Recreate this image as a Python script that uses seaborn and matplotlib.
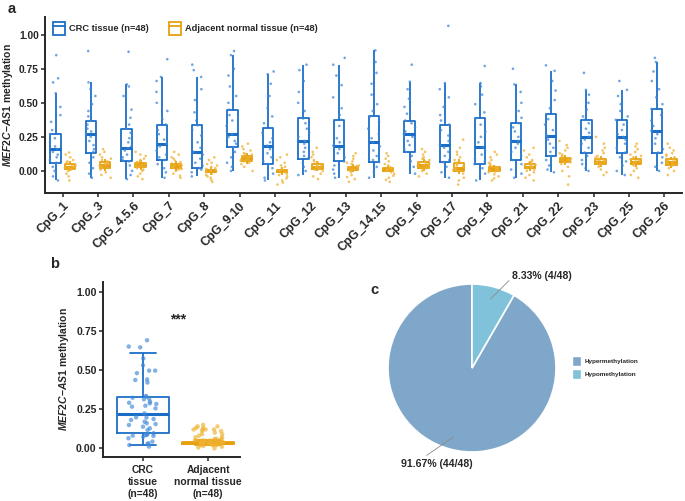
import numpy as np
import pandas as pd
import matplotlib
matplotlib.use("Agg")
import matplotlib.pyplot as plt
from matplotlib.patches import Patch
from matplotlib.lines import Line2D
import seaborn as sns

# ---- data ----
sites = ["CpG_1", "CpG_3", "CpG_4.5.6", "CpG_7", "CpG_8", "CpG_9.10", "CpG_11",
         "CpG_12", "CpG_13", "CpG_14.15", "CpG_16", "CpG_17", "CpG_18", "CpG_21",
         "CpG_22", "CpG_23", "CpG_25", "CpG_26"]
tissues = ["CRC tissue (n=48)", "Adjacent normal tissue (n=48)"]

# five-number summaries per site: whisker low, q1, median, q3, whisker high
crc_box = [
    [-0.07, 0.06, 0.16, 0.27, 0.575],
    [-0.05, 0.135, 0.27, 0.37, 0.65],
    [-0.06, 0.07, 0.165, 0.31, 0.635],
    [-0.05, 0.08, 0.20, 0.34, 0.69],
    [-0.04, 0.02, 0.14, 0.335, 0.69],
    [0.0, 0.175, 0.27, 0.45, 0.85],
    [-0.07, 0.05, 0.185, 0.315, 0.71],
    [-0.03, 0.09, 0.22, 0.385, 0.78],
    [-0.05, 0.07, 0.185, 0.375, 0.78],
    [-0.05, 0.065, 0.21, 0.40, 0.885],
    [-0.02, 0.14, 0.27, 0.37, 0.655],
    [-0.05, 0.065, 0.19, 0.34, 0.645],
    [-0.07, 0.05, 0.175, 0.385, 0.645],
    [-0.05, 0.08, 0.22, 0.35, 0.635],
    [-0.01, 0.11, 0.255, 0.415, 0.735],
    [0.0, 0.135, 0.25, 0.375, 0.595],
    [-0.03, 0.135, 0.25, 0.375, 0.595],
    [0.0, 0.135, 0.295, 0.455, 0.80],
]
normal_box = [
    [0.0, 0.012, 0.032, 0.048, 0.07],
    [0.0, 0.025, 0.044, 0.064, 0.09],
    [0.01, 0.032, 0.049, 0.061, 0.08],
    [0.0, 0.018, 0.034, 0.052, 0.075],
    [-0.03, -0.01, 0.0, 0.01, 0.03],
    [0.05, 0.071, 0.093, 0.11, 0.13],
    [-0.03, -0.01, 0.0, 0.01, 0.03],
    [0.0, 0.015, 0.032, 0.049, 0.07],
    [-0.01, 0.005, 0.02, 0.03, 0.05],
    [-0.01, 0.0, 0.012, 0.02, 0.035],
    [0.0, 0.02, 0.044, 0.064, 0.09],
    [-0.02, 0.002, 0.02, 0.061, 0.09],
    [-0.01, 0.002, 0.015, 0.026, 0.045],
    [0.0, 0.018, 0.032, 0.049, 0.07],
    [0.04, 0.062, 0.081, 0.098, 0.12],
    [0.03, 0.049, 0.069, 0.086, 0.11],
    [0.03, 0.049, 0.069, 0.086, 0.11],
    [0.025, 0.045, 0.065, 0.085, 0.105],
]

# individual samples (approximate)
crc_points = [
    [0.85, 0.68, 0.65, 0.57, 0.47, 0.41, 0.36, 0.30, 0.27, 0.24, 0.21, 0.18, 0.16, 0.14, 0.12, 0.10, 0.08, 0.06, 0.03, 0.00, -0.04, -0.07],
    [0.88, 0.65, 0.60, 0.55, 0.49, 0.44, 0.40, 0.37, 0.34, 0.31, 0.29, 0.27, 0.25, 0.22, 0.19, 0.16, 0.14, 0.10, 0.06, 0.02, -0.02, -0.05],
    [0.875, 0.635, 0.62, 0.55, 0.45, 0.39, 0.34, 0.31, 0.28, 0.24, 0.21, 0.18, 0.165, 0.15, 0.12, 0.10, 0.08, 0.07, 0.04, 0.0, -0.03, -0.06],
    [0.82, 0.69, 0.66, 0.58, 0.50, 0.44, 0.38, 0.34, 0.30, 0.27, 0.23, 0.20, 0.18, 0.15, 0.12, 0.10, 0.08, 0.05, 0.02, -0.01, -0.05],
    [0.78, 0.74, 0.69, 0.60, 0.52, 0.43, 0.37, 0.335, 0.30, 0.26, 0.21, 0.17, 0.14, 0.12, 0.09, 0.06, 0.04, 0.02, 0.01, -0.01, -0.04],
    [0.88, 0.85, 0.75, 0.70, 0.62, 0.55, 0.50, 0.45, 0.41, 0.37, 0.33, 0.29, 0.27, 0.25, 0.22, 0.20, 0.175, 0.14, 0.10, 0.06, 0.03, 0.0],
    [0.73, 0.71, 0.64, 0.55, 0.46, 0.40, 0.35, 0.315, 0.28, 0.24, 0.21, 0.185, 0.16, 0.13, 0.10, 0.07, 0.05, 0.02, -0.02, -0.05, -0.07],
    [0.78, 0.74, 0.66, 0.58, 0.50, 0.44, 0.385, 0.35, 0.31, 0.28, 0.25, 0.22, 0.20, 0.17, 0.14, 0.11, 0.09, 0.06, 0.03, 0.0, -0.03],
    [0.83, 0.78, 0.70, 0.63, 0.54, 0.46, 0.41, 0.375, 0.33, 0.28, 0.24, 0.21, 0.185, 0.16, 0.13, 0.10, 0.07, 0.04, 0.01, -0.02, -0.05],
    [0.885, 0.80, 0.72, 0.64, 0.56, 0.49, 0.44, 0.40, 0.36, 0.31, 0.27, 0.24, 0.21, 0.18, 0.15, 0.11, 0.08, 0.065, 0.03, -0.01, -0.05],
    [0.78, 0.655, 0.60, 0.53, 0.47, 0.42, 0.37, 0.35, 0.32, 0.29, 0.27, 0.25, 0.22, 0.19, 0.16, 0.14, 0.11, 0.07, 0.03, -0.02],
    [1.065, 0.645, 0.60, 0.54, 0.47, 0.41, 0.37, 0.34, 0.30, 0.26, 0.22, 0.19, 0.17, 0.14, 0.11, 0.08, 0.065, 0.03, -0.01, -0.05],
    [0.77, 0.645, 0.62, 0.56, 0.49, 0.43, 0.385, 0.34, 0.29, 0.25, 0.21, 0.175, 0.15, 0.12, 0.09, 0.07, 0.05, 0.02, -0.02, -0.07],
    [0.75, 0.635, 0.58, 0.50, 0.44, 0.39, 0.35, 0.32, 0.29, 0.25, 0.22, 0.20, 0.17, 0.14, 0.11, 0.08, 0.05, 0.01, -0.02, -0.05],
    [0.775, 0.735, 0.66, 0.59, 0.52, 0.46, 0.415, 0.38, 0.34, 0.30, 0.27, 0.255, 0.23, 0.20, 0.17, 0.14, 0.11, 0.08, 0.04, 0.01, -0.01],
    [0.72, 0.595, 0.56, 0.50, 0.45, 0.40, 0.375, 0.35, 0.31, 0.28, 0.25, 0.23, 0.20, 0.17, 0.135, 0.11, 0.08, 0.05, 0.02, 0.0],
    [0.66, 0.595, 0.55, 0.49, 0.44, 0.40, 0.375, 0.34, 0.30, 0.27, 0.25, 0.23, 0.20, 0.17, 0.135, 0.10, 0.07, 0.04, 0.0, -0.03],
    [0.83, 0.80, 0.73, 0.66, 0.60, 0.54, 0.49, 0.455, 0.41, 0.37, 0.33, 0.295, 0.27, 0.24, 0.20, 0.16, 0.135, 0.10, 0.06, 0.03, 0.0],
]
normal_points = [
    [0.135, 0.12, 0.10, 0.08, 0.07, 0.06, 0.05, 0.045, 0.04, 0.035, 0.03, 0.03, 0.025, 0.02, 0.015, 0.01, 0.0, -0.02, -0.04, -0.07],
    [0.16, 0.14, 0.12, 0.10, 0.09, 0.08, 0.07, 0.06, 0.055, 0.05, 0.045, 0.04, 0.035, 0.03, 0.025, 0.02, 0.01, -0.01, -0.03, -0.05],
    [0.14, 0.12, 0.11, 0.09, 0.08, 0.07, 0.065, 0.06, 0.055, 0.05, 0.045, 0.04, 0.035, 0.03, 0.02, 0.01, 0.0, -0.02, -0.04, -0.06],
    [0.14, 0.12, 0.10, 0.09, 0.075, 0.065, 0.055, 0.05, 0.045, 0.04, 0.035, 0.03, 0.025, 0.02, 0.015, 0.01, 0.0, -0.02, -0.035, -0.05],
    [0.10, 0.08, 0.06, 0.05, 0.04, 0.03, 0.02, 0.015, 0.01, 0.005, 0.0, 0.0, -0.005, -0.01, -0.02, -0.03, -0.04, -0.05, -0.065, -0.08],
    [0.20, 0.18, 0.16, 0.15, 0.13, 0.125, 0.12, 0.11, 0.105, 0.10, 0.095, 0.09, 0.085, 0.08, 0.075, 0.07, 0.06, 0.05, 0.03, 0.0],
    [0.12, 0.10, 0.08, 0.06, 0.04, 0.03, 0.02, 0.01, 0.005, 0.0, 0.0, -0.005, -0.01, -0.02, -0.03, -0.04, -0.055, -0.07, -0.085, -0.10],
    [0.17, 0.14, 0.12, 0.10, 0.08, 0.07, 0.06, 0.05, 0.045, 0.04, 0.035, 0.03, 0.025, 0.02, 0.015, 0.01, 0.0, -0.02, -0.04, -0.06],
    [0.13, 0.11, 0.09, 0.07, 0.06, 0.05, 0.04, 0.035, 0.03, 0.025, 0.02, 0.015, 0.01, 0.005, 0.0, -0.01, -0.03, -0.045, -0.06, -0.08],
    [0.13, 0.11, 0.09, 0.07, 0.05, 0.04, 0.03, 0.025, 0.02, 0.015, 0.01, 0.01, 0.005, 0.0, -0.01, -0.02, -0.035, -0.05, -0.065, -0.08],
    [0.16, 0.14, 0.12, 0.10, 0.09, 0.08, 0.07, 0.06, 0.055, 0.05, 0.045, 0.04, 0.035, 0.03, 0.025, 0.02, 0.01, 0.0, -0.02, -0.04],
    [0.23, 0.17, 0.14, 0.12, 0.10, 0.08, 0.07, 0.06, 0.05, 0.04, 0.03, 0.02, 0.015, 0.01, 0.005, 0.0, -0.02, -0.05, -0.07, -0.10],
    [0.14, 0.12, 0.10, 0.08, 0.06, 0.05, 0.04, 0.03, 0.025, 0.02, 0.015, 0.01, 0.005, 0.0, -0.005, -0.01, -0.025, -0.04, -0.055, -0.07],
    [0.17, 0.15, 0.12, 0.10, 0.08, 0.07, 0.06, 0.05, 0.045, 0.04, 0.035, 0.03, 0.025, 0.02, 0.01, 0.0, -0.01, -0.03, -0.05, -0.07],
    [0.22, 0.19, 0.17, 0.15, 0.13, 0.12, 0.11, 0.10, 0.095, 0.09, 0.085, 0.08, 0.075, 0.07, 0.065, 0.06, 0.05, 0.03, 0.0, -0.04, -0.10],
    [0.25, 0.20, 0.17, 0.15, 0.13, 0.11, 0.10, 0.09, 0.085, 0.08, 0.075, 0.07, 0.065, 0.06, 0.055, 0.05, 0.04, 0.03, 0.01, -0.01, -0.03],
    [0.20, 0.18, 0.16, 0.14, 0.12, 0.11, 0.10, 0.09, 0.085, 0.08, 0.075, 0.07, 0.065, 0.06, 0.055, 0.05, 0.04, 0.02, 0.0, -0.03, -0.05],
    [0.20, 0.17, 0.15, 0.13, 0.12, 0.11, 0.10, 0.09, 0.085, 0.08, 0.07, 0.065, 0.06, 0.055, 0.05, 0.045, 0.04, 0.02, 0.0, -0.03],
]

# panel b: mean methylation per sample
groups_b = ["CRC\ntissue\n(n=48)", "Adjacent\nnormal tissue\n(n=48)"]
crc_box_b = [0.02, 0.095, 0.22, 0.33, 0.61]
normal_box_b = [0.02, 0.03, 0.036, 0.042, 0.05]
crc_points_b = [0.69, 0.645, 0.65, 0.574, 0.53, 0.496, 0.496, 0.48, 0.44, 0.436, 0.42, 0.334,
                0.33, 0.323, 0.317, 0.313, 0.298, 0.291, 0.287, 0.283, 0.272, 0.266, 0.255, 0.223,
                0.198, 0.196, 0.187, 0.181, 0.17, 0.16, 0.155, 0.149, 0.138, 0.128, 0.117, 0.096,
                0.091, 0.087, 0.085, 0.081, 0.079, 0.074, 0.064, 0.043, 0.032, 0.028, 0.021, 0.011]
normal_points_b = [0.15, 0.14, 0.14, 0.13, 0.13, 0.12, 0.12, 0.12, 0.12, 0.11, 0.11, 0.10,
                   0.09, 0.09, 0.08, 0.07, 0.07, 0.06, 0.06, 0.06, 0.05, 0.05, 0.05, 0.05,
                   0.04, 0.04, 0.04, 0.04, 0.04, 0.035, 0.035, 0.035, 0.035, 0.03, 0.03, 0.03,
                   0.03, 0.03, 0.03, 0.025, 0.025, 0.02, 0.02, 0.02, 0.015, 0.01, 0.005, 0.0]

# panel c
pie_labels = ["Hypermethylation", "Hypomethylation"]
pie_counts = [44, 4]
pie_text = ["91.67% (44/48)", "8.33% (4/48)"]

blue = "#1b6ec8"
orange = "#e6a10f"
blue_pt = "#3f88d8"
orange_pt = "#efb12f"
pie_colors = ["#7fa7ca", "#80c2da"]

sns.set_theme(style="ticks")
plt.rcParams["font.family"] = ["Liberation Sans", "DejaVu Sans"]
plt.rcParams["font.weight"] = "bold"
plt.rcParams["axes.labelweight"] = "bold"
plt.rcParams["mathtext.fontset"] = "custom"
plt.rcParams["mathtext.it"] = "Liberation Sans:italic:bold"
plt.rcParams["mathtext.rm"] = "Liberation Sans:bold"
np.random.seed(3)

# long tables
box_rows, pt_rows = [], []
for i, s in enumerate(sites):
    for v in crc_box[i]:
        box_rows.append((s, tissues[0], v))
    for v in normal_box[i]:
        box_rows.append((s, tissues[1], v))
    for v in crc_points[i]:
        pt_rows.append((s, tissues[0], v))
    for v in normal_points[i]:
        pt_rows.append((s, tissues[1], v))
box_df = pd.DataFrame(box_rows, columns=["site", "tissue", "value"])
pt_df = pd.DataFrame(pt_rows, columns=["site", "tissue", "value"])

fig = plt.figure(figsize=(6.85, 5.01), dpi=100)
ax_a = fig.add_axes([45 / 685, 1 - 193 / 501, 637 / 685, 176 / 501])
ax_b = fig.add_axes([103 / 685, 1 - 457 / 501, 137 / 685, 175 / 501])
ax_c = fig.add_axes([367 / 685, 1 - 473 / 501, 210 / 685, 210 / 501])

pal = {tissues[0]: blue, tissues[1]: orange}
pal_pt = {tissues[0]: blue_pt, tissues[1]: orange_pt}

# ---- panel a ----
sns.boxplot(data=box_df, x="site", y="value", hue="tissue", order=sites, hue_order=tissues,
            palette=pal, fill=False, whis=np.inf, width=0.8, gap=0.27, linewidth=1.3,
            showcaps=False, medianprops={"linewidth": 2.2}, legend=False, ax=ax_a)
sns.stripplot(data=pt_df, x="site", y="value", hue="tissue", order=sites, hue_order=tissues,
              palette=pal_pt, dodge=True, jitter=0.34, size=1.9, alpha=0.75, linewidth=0,
              legend=False, ax=ax_a)
ax_a.set_xlim(-0.5, len(sites) - 0.5)
ax_a.set_ylim(-0.162, 1.13)
ax_a.set_yticks([0, 0.25, 0.5, 0.75, 1.0])
ax_a.set_yticklabels(["0.00", "0.25", "0.50", "0.75", "1.00"])
ax_a.set_xlabel("")
ax_a.set_ylabel(r"$\mathit{MEF2C{-}AS1}$ methylation", fontsize=7.5, labelpad=3)
ax_a.tick_params(axis="y", labelsize=7.4, width=1.1, length=3, pad=1.5)
ax_a.tick_params(axis="x", labelsize=8.8, width=1.1, length=3, pad=2)
plt.setp(ax_a.get_xticklabels(), rotation=45, ha="right", rotation_mode="anchor")
for sp in ["left", "bottom"]:
    ax_a.spines[sp].set_linewidth(1.4)
sns.despine(ax=ax_a)

handles = [(Patch(facecolor="white", edgecolor=c, linewidth=1.3),
            Line2D([], [], color=c, linewidth=1.3)) for c in [blue, orange]]
ax_a.legend(handles, tissues, loc="center left", bbox_to_anchor=(0.0, 0.935), ncol=2,
            frameon=False, fontsize=6.7, handlelength=1.2, handleheight=1.9,
            columnspacing=2.2, handletextpad=0.5)

# ---- panel b ----
box_b = pd.DataFrame({"group": [groups_b[0]] * 5 + [groups_b[1]] * 5,
                      "value": crc_box_b + normal_box_b})
pt_b = pd.DataFrame({"group": [groups_b[0]] * len(crc_points_b) + [groups_b[1]] * len(normal_points_b),
                     "value": crc_points_b + normal_points_b})
pal_b = {groups_b[0]: blue, groups_b[1]: orange}
pal_b_pt = {groups_b[0]: blue_pt, groups_b[1]: orange_pt}
sns.boxplot(data=box_b, x="group", y="value", hue="group", order=groups_b, palette=pal_b,
            fill=False, whis=np.inf, width=0.8, linewidth=1.3,
            medianprops={"linewidth": 2.2}, legend=False, ax=ax_b)
sns.stripplot(data=pt_b, x="group", y="value", hue="group", order=groups_b, palette=pal_b_pt,
              jitter=0.23, size=3.2, alpha=0.65, linewidth=0, legend=False, ax=ax_b)
ax_b.set_xlim(-0.61, 1.49)
ax_b.set_ylim(-0.0555, 1.062)
ax_b.set_yticks([0, 0.25, 0.5, 0.75, 1.0])
ax_b.set_yticklabels(["0.00", "0.25", "0.50", "0.75", "1.00"])
ax_b.set_xlabel("")
ax_b.set_ylabel(r"$\mathit{MEF2C{-}AS1}$ methylation", fontsize=7.5, labelpad=4)
ax_b.tick_params(axis="y", labelsize=7.6, width=1.1, length=3, pad=1.5)
ax_b.tick_params(axis="x", labelsize=7.4, width=1.1, length=3, pad=3)
plt.setp(ax_b.get_xticklabels(), linespacing=1.2)
for sp in ["left", "bottom"]:
    ax_b.spines[sp].set_linewidth(1.4)
sns.despine(ax=ax_b)
ax_b.text(0.54, 0.82, "***", ha="center", va="center", fontsize=10, fontweight="bold")

# ---- panel c ----
wedges, _ = ax_c.pie(pie_counts, colors=pie_colors, startangle=90, radius=1.0,
                     wedgeprops={"edgecolor": "white", "linewidth": 1.2})
ax_c.set_xlim(-1.25, 1.25)
ax_c.set_ylim(-1.25, 1.25)
ax_c.set_aspect("auto")
ax_c.axis("off")
text_pos = [(-0.42, -1.14), (0.83, 1.095)]
line_end = [(-0.54, -1.04), (0.44, 1.04)]
for w, t, tp, le in zip(wedges, pie_text, text_pos, line_end):
    ang = np.deg2rad((w.theta1 + w.theta2) / 2)
    start = (0.85 * np.cos(ang), 0.85 * np.sin(ang))
    ax_c.plot([start[0], le[0]], [start[1], le[1]], color="#8a8a8a", linewidth=0.6, clip_on=False)
    ax_c.text(tp[0], tp[1], t, ha="center", va="center", fontsize=7.6, fontweight="bold")
fig.legend([Patch(facecolor=c, edgecolor="white") for c in pie_colors], pie_labels,
           loc="upper left", bbox_to_anchor=(566 / 685, 1 - 350 / 501), frameon=False,
           fontsize=4.6, handlelength=1.5, handleheight=2.2, handletextpad=0.5, labelspacing=0.35)

# panel letters
fig.text(8 / 685, 1 - 9 / 501, "a", fontsize=10.5, fontweight="bold", va="center")
fig.text(50 / 685, 1 - 264 / 501, "b", fontsize=10.5, fontweight="bold", va="center")
fig.text(370 / 685, 1 - 290 / 501, "c", fontsize=10.5, fontweight="bold", va="center")

fig.savefig("out.png", dpi=100)
